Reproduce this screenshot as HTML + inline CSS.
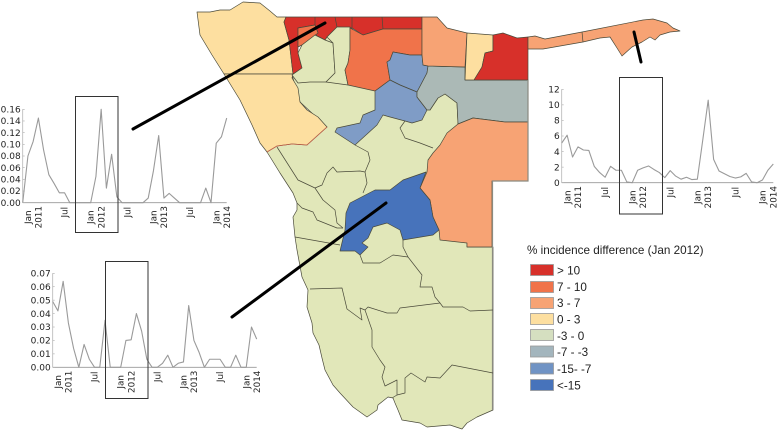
<!DOCTYPE html>
<html>
<head>
<meta charset="utf-8">
<title>Incidence difference map</title>
<style>
html,body{margin:0;padding:0;background:#fff;width:778px;height:432px;overflow:hidden}
svg{display:block;filter:blur(.3px)}
.r{stroke:#4a4a3a;stroke-width:.7;stroke-linejoin:round}
.b{fill:none;stroke:#4a4a3a;stroke-width:.7;stroke-linejoin:round}
.lt{font-family:"Liberation Sans",sans-serif;font-size:11.7px;fill:#222}
</style>
</head>
<body>
<svg id="root" width="778" height="432" viewBox="0 0 778 432" xmlns="http://www.w3.org/2000/svg">
<g id="map">
<polygon class="r" fill="#e1e7b9" points="267,152 272,160 280,173 293,193 297,203 297,210 293,217 295,237 297,250 302,277 308,290 307,307 312,323 313,333 319,345 322,358 325,370 333,385 340,393 353,407 367,417 377,410 378,405 388,397 393,398 395,403 398,410 402,420 420,423 427,427 450,425 462,429 467,423 477,417 493,410 493,247 467,247 467,130 458,124 457,103 445,94 438,98 430,110 422,90 350,27 337,27 327,37 302,45 292,75 300,102 327,127 307,140 292,140 277,140"/>
<polygon class="r" fill="#fddfa0" points="197,12 210,12 220,10 230,10 243,2 260,3 270,11 277,17 286,17 284,22 289,40 293,74 224,74 212,55 200,35"/>
<polygon class="r" fill="#fddfa0" points="224,74 293,74 292,78 298,88 300,102 307,110 318,117 327,127 307,145 292,144 277,146 267,152 260,143 252,125 240,100"/>
<polyline fill="none" stroke="#c8604a" stroke-width=".8" points="327,127 307,145 292,144 277,146 267,152"/>
<polygon class="r" fill="#d7302a" points="286,17 422,17 422,29 383,29 363,35 352,28 337,27 327,37 325,40 315,35 318,33 315,25 298,28 298,53 302,68 293,74 289,40 284,22"/>
<polyline class="b" points="315,17 315,25"/>
<polyline class="b" points="335,17 337,27"/>
<polyline class="b" points="352,17 352,28"/>
<polyline class="b" points="382,17 383,29"/>
<polygon class="r" fill="#f0734a" points="298,28 315,25 318,33 302,45 298,47"/>
<polygon class="r" fill="#e1e7b9" points="302,45 315,35 325,40 333,43 335,73 326,82 310,82 298,83 292,75 302,68 298,53"/>
<polygon class="r" fill="#e1e7b9" points="327,37 337,27 350,27 350,50 348,63 345,70 348,85 326,82 335,73 333,43"/>
<polygon class="r" fill="#f0734a" points="350,28 363,35 383,29 422,29 422,55 410,55 393,52 390,60 387,62 390,80 375,91 348,85 345,70 348,63 350,50"/>
<polygon class="r" fill="#7f9cc6" points="393,52 410,55 422,55 423,65 428,66 427,73 417,92 400,85 390,80 387,62 390,60"/>
<polygon class="r" fill="#7f9cc6" points="390,80 400,85 417,92 417,97 427,110 422,120 412,123 405,121 390,117 383,115 377,125 355,145 335,132 337,128 360,123 363,115 375,110 375,91"/>
<polygon class="r" fill="#abb9b6" points="428,66 465,67 465,80 528,80 528,122 505,122 473,118 458,124 457,103 445,94 438,98 430,110 427,110 417,97 417,92 427,73"/>
<polygon class="r" fill="#f7a374" points="422,17 437,17 447,28 467,33 465,67 428,66 423,65 422,55"/>
<polygon class="r" fill="#fddfa0" points="467,33 493,35 493,51 485,53 482,67 474,80 465,80"/>
<polygon class="r" fill="#d7302a" points="493,35 503,33 517,38 528,37 528,80 474,80 482,67 485,53 493,51"/>
<polygon class="r" fill="#f7a374" points="528,37 535,36 545,39 582,32 643,20 653,19 667,23 673,28 680,31 670,32 660,35 655,40 650,37 642,42 632,47 622,56 617,48 610,37 600,38 583,42 543,49 528,49"/>
<line class="b" x1="582" y1="32" x2="583" y2="42"/>
<polygon class="r" fill="#f7a374" points="528,122 505,122 473,118 458,124 447,133 440,145 433,153 428,160 427,172 420,188 430,200 433,217 439,230 440,240 467,243 467,247 492,247 492,181 528,181"/>
<polygon class="r" fill="#4773bb" points="426,172 420,188 430,200 433,217 439,230 433,235 403,240 400,230 387,223 373,227 368,238 362,243 368,247 360,255 355,251 340,251 345,230 346,213 350,203 375,190 390,190 403,180"/>
<polyline fill="none" stroke="#8a8a80" stroke-width="1.2" points="528,80 528,181 492.5,181 492.5,410"/>
<g id="boundaries">
<polyline class="b" points="277,147 298,180 315,188 322,185 327,173 333,167 337,172 360,171 365,172 367,183 363,193"/>
<polyline class="b" points="315,188 323,200 335,210 337,223 343,228"/>
<polyline class="b" points="297,203 302,208 313,212 317,220 337,228 343,228"/>
<polyline class="b" points="295,237 340,245"/>
<polyline class="b" points="355,145 368,152 370,160 365,172"/>
<polyline class="b" points="405,121 400,128 405,138 420,143 433,148"/>
<polyline class="b" points="360,255 363,263 380,263 393,255 408,257 422,275 420,287 432,287 435,297 440,303 400,308 397,313 387,313 368,307 365,310 360,308 362,320 347,309 342,288 310,289"/>
<polyline class="b" points="403,240 403,247 408,257"/>
<polyline class="b" points="440,303 443,307 463,307 470,311 493,310"/>
<polyline class="b" points="365,310 372,330 372,347 380,360 385,367 382,377 385,386 397,380 397,395 392,398"/>
<polyline class="b" points="397,395 405,393 405,378 411,373 425,382 427,377 440,378 452,365 493,373"/>
</g>
</g>
<g id="legend">
<text class="lt" x="527" y="254">% incidence difference (Jan 2012)</text>
<g><rect x="530.5" y="264.5" width="23" height="11" fill="#d7302a" stroke="#999" stroke-width=".8"/><text class="lt" x="557" y="274.5">&gt; 10</text></g>
<g><rect x="530.5" y="281.5" width="23" height="11" fill="#f0734a" stroke="#999" stroke-width=".8"/><text class="lt" x="557" y="291">7 - 10</text></g>
<g><rect x="530.5" y="297.5" width="23" height="11" fill="#f7a374" stroke="#999" stroke-width=".8"/><text class="lt" x="557" y="307">3 - 7</text></g>
<g><rect x="530.5" y="313.5" width="23" height="11" fill="#fddfa0" stroke="#999" stroke-width=".8"/><text class="lt" x="557" y="323.5">0 - 3</text></g>
<g><rect x="530.5" y="329.5" width="23" height="11" fill="#d5dfc0" stroke="#999" stroke-width=".8"/><text class="lt" x="557" y="340">-3 - 0</text></g>
<g><rect x="530.5" y="346" width="23" height="11" fill="#a3b5bd" stroke="#999" stroke-width=".8"/><text class="lt" x="557" y="356">-7 - -3</text></g>
<g><rect x="530.5" y="363" width="23" height="11" fill="#7093c4" stroke="#999" stroke-width=".8"/><text class="lt" x="557" y="373">-15- -7</text></g>
<g><rect x="530.5" y="379.5" width="23" height="11" fill="#4773bb" stroke="#999" stroke-width=".8"/><text class="lt" x="557" y="389.5">&lt;-15</text></g>
</g>
<g id="charts"></g>
<line x1="133" y1="129" x2="325" y2="23" stroke="#000" stroke-width="3" stroke-linecap="round"/>
<line x1="232" y1="317" x2="386" y2="203" stroke="#000" stroke-width="3" stroke-linecap="round"/>
<line x1="634" y1="32" x2="641" y2="62" stroke="#000" stroke-width="3" stroke-linecap="round"/>
</svg>
<script>
var months = ["Nov10","Dec10","Jan11","Feb11","Mar11","Apr11","May11","Jun11","Jul11","Aug11","Sep11","Oct11","Nov11","Dec11","Jan12","Feb12","Mar12","Apr12","May12","Jun12","Jul12","Aug12","Sep12","Oct12","Nov12","Dec12","Jan13","Feb13","Mar13","Apr13","May13","Jun13","Jul13","Aug13","Sep13","Oct13","Nov13","Dec13","Jan14","Feb14"];
var northValues = [0,0.08,0.105,0.145,0.09,0.048,0.033,0.017,0.017,0,0,0,0,0,0.045,0.16,0.025,0.083,0.01,0,0,0,0,0,0.008,0.055,0.115,0.008,0.016,0.008,0,0,0,0,0,0.025,0,0.102,0.113,0.145];
var centralValues = [0.049,0.042,0.064,0.033,0.014,0,0.017,0.006,0,0,0.035,0,0,0,0.02,0.0205,0.04,0.027,0.006,0,0,0.003,0.009,0,0.003,0.004,0.046,0.02,0.011,0,0.006,0.006,0.006,0,0,0.009,0,0,0.03,0.021];
var capriviValues = [5.1,6.1,3.3,4.6,4.2,4.15,2.1,1.3,0.7,2.1,1.6,1.6,0.1,0,1.6,1.9,2.15,1.7,1.3,0.65,1.55,0.85,0.45,0.7,0.4,0.45,5.5,10.6,3,1.5,1.15,0.8,0.6,0.75,1.2,0.1,0,0.35,1.6,2.4];
var northTicks = ["0.00","0.02","0.04","0.06","0.08","0.10","0.12","0.14","0.16"];
var centralTicks = ["0.00","0.01","0.02","0.03","0.04","0.05","0.06","0.07"];
var capriviTicks = ["0","2","4","6","8","10","12"];
var xTickMonths = ["Jan11","Jul11","Jan12","Jul12","Jan13","Jul13","Jan14"];
var xTickLines = [["Jan","2011"],["Jul"],["Jan","2012"],["Jul"],["Jan","2013"],["Jul"],["Jan","2014"]];

var NS = "http://www.w3.org/2000/svg";
var host = document.getElementById("charts");

function make(tag, attrs, parent) {
  var e = document.createElementNS(NS, tag);
  for (var k in attrs) e.setAttribute(k, attrs[k]);
  parent.appendChild(e);
  return e;
}

function drawChart(name, values, ticks, box, frame) {
  var g = make("g", {}, host);
  
  
  var tickNums = ticks.map(Number);
  var yMax = tickNums[tickNums.length - 1];
  function sx(i) { return box.x0 + (box.x1 - box.x0) * i / (months.length - 1); }
  function sy(v) { return box.y0 - (box.y0 - box.y1) * v / yMax; }

  var yAxis = make("line", {x1: box.x0, y1: box.y0, x2: box.x0, y2: box.y1, stroke: "#b5b5b5", "stroke-width": 0.8}, g);
  
  
  var xAxis = make("line", {x1: box.x0, y1: box.y0, x2: box.x1, y2: box.y0, stroke: "#999", "stroke-width": 0.9}, g);
  
  

  ticks.forEach(function (t, i) {
    var y = sy(tickNums[i]);
    var label = make("text", {x: box.x0 - 2, y: y + 3.2, "text-anchor": "end", "font-family": "DejaVu Sans, sans-serif", "font-size": 9, fill: "#222"}, g);
    label.textContent = t;
    
    
    make("line", {x1: box.x0, y1: y, x2: box.x0 + 2, y2: y, stroke: "#aaa", "stroke-width": 0.6}, g);
  });

  xTickMonths.forEach(function (m, i) {
    var x = sx(months.indexOf(m));
    var lines = xTickLines[i];
    lines.forEach(function (txt, j) {
      var dx = lines.length === 2 ? (j === 0 ? -5.3 : 5.3) : 0;
      var cy = box.y0 + (lines.length === 2 ? 14.5 : 9.5);
      var label = make("text", {x: 0, y: 0, "text-anchor": "middle", "font-family": "DejaVu Sans, sans-serif", "font-size": 8.8, fill: "#222",
        transform: "translate(" + (x + dx + 3.1) + "," + cy + ") rotate(-90)"}, g);
      label.textContent = txt;
      
      
    });
  });

  var pts = values.map(function (v, i) { return sx(i).toFixed(2) + "," + sy(v).toFixed(2); }).join(" ");
  var line = make("polyline", {points: pts, fill: "none", stroke: "#9a9a9a", "stroke-width": 1.1, "stroke-linejoin": "round"}, g);
  
  

  var rect = make("rect", {x: frame.x, y: frame.y, width: frame.w, height: frame.h, fill: "none", stroke: "#333", "stroke-width": 1}, g);
  
  
}

drawChart("chart-north", northValues, northTicks, {x0: 22.7, x1: 226.7, y0: 202.7, y1: 109.3}, {x: 75.5, y: 96.5, w: 42.5, h: 136});
drawChart("chart-central", centralValues, centralTicks, {x0: 52.7, x1: 256.7, y0: 367.3, y1: 273.3}, {x: 105.5, y: 261.5, w: 42.5, h: 137});
drawChart("chart-caprivi", capriviValues, capriviTicks, {x0: 561.7, x1: 773.3, y0: 182.7, y1: 89.3}, {x: 619.5, y: 77.5, w: 43, h: 136.5});
</script>
</body>
</html>
